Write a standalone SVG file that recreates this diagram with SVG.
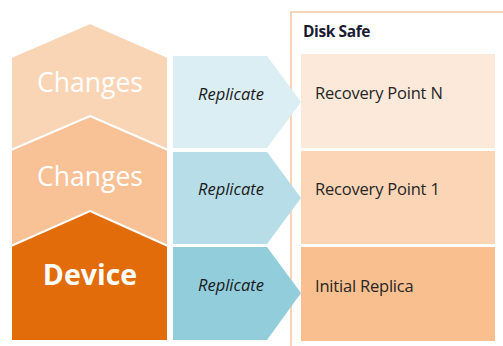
<svg xmlns="http://www.w3.org/2000/svg" width="503" height="346" viewBox="0 0 503 346">
<style>
.stack{stroke:#fff;stroke-width:2;stroke-linejoin:miter}
.chg{font-family:"Open Sans",sans-serif;font-size:26.5px;fill:#fff;text-anchor:middle}
.dev{font-family:"Open Sans",sans-serif;font-size:28.5px;font-weight:bold;fill:#fff;text-anchor:middle}
.rep{font-family:"Open Sans",sans-serif;font-size:16.5px;font-style:italic;fill:#1a1a1a;text-anchor:middle}
.rp{font-family:"Open Sans",sans-serif;font-size:16.5px;fill:#262626}
.ds{font-family:"Open Sans",sans-serif;font-size:15.5px;font-weight:bold;fill:#1a1a33}
</style>
<rect width="503" height="346" fill="#fff"/>
<g id="disk-safe">
<path d="M291 346 V12 H503" fill="none" stroke="#F9C39E" stroke-width="1.5"/>
<text class="ds" x="303" y="37" letter-spacing="-0.4">Disk Safe</text>
</g>
<g id="changes-n">
<polygon class="stack" points="90,23 168,57 168,152 11,152 11,57" fill="#F9D5B6"/>
<text class="chg" x="90" y="92">Changes</text>
</g>
<g id="changes-1">
<polygon class="stack" points="90,116 168,150 168,247 11,247 11,150" fill="#F8C196"/>
<text class="chg" x="90" y="186">Changes</text>
</g>
<g id="device">
<polygon class="stack" points="90,211 168,246 168,341 11,341 11,246" fill="#E36C0A"/>
<text class="dev" x="90" y="285">Device</text>
</g>
<g id="connectors">
<g id="replicate-n">
<polygon points="173,56 267,56 301,102 267,148 173,148" fill="#DAEEF3"/>
<text class="rep" x="231" y="100">Replicate</text>
</g>
<g id="replicate-1">
<polygon points="173,152 267,152 301,198 267,244 173,244" fill="#B7DEE8"/>
<text class="rep" x="231" y="195">Replicate</text>
</g>
<g id="replicate-0">
<polygon points="173,247 267,247 301,293 267,340 173,340" fill="#92CDDC"/>
<text class="rep" x="231" y="291">Replicate</text>
</g>
</g>
<g id="recovery-point-n">
<rect x="301" y="54" width="194" height="94" fill="#FDE9D9"/>
<text class="rp" x="315" y="99" letter-spacing="-0.2">Recovery Point N</text>
</g>
<g id="recovery-point-1">
<rect x="301" y="151" width="194" height="93" fill="#FBD5B5"/>
<text class="rp" x="315" y="195" letter-spacing="-0.2">Recovery Point 1</text>
</g>
<g id="initial-replica">
<rect x="301" y="247" width="194" height="94" fill="#F9BF8F"/>
<text class="rp" x="315" y="292" letter-spacing="-0.2">Initial Replica</text>
</g>
</svg>
